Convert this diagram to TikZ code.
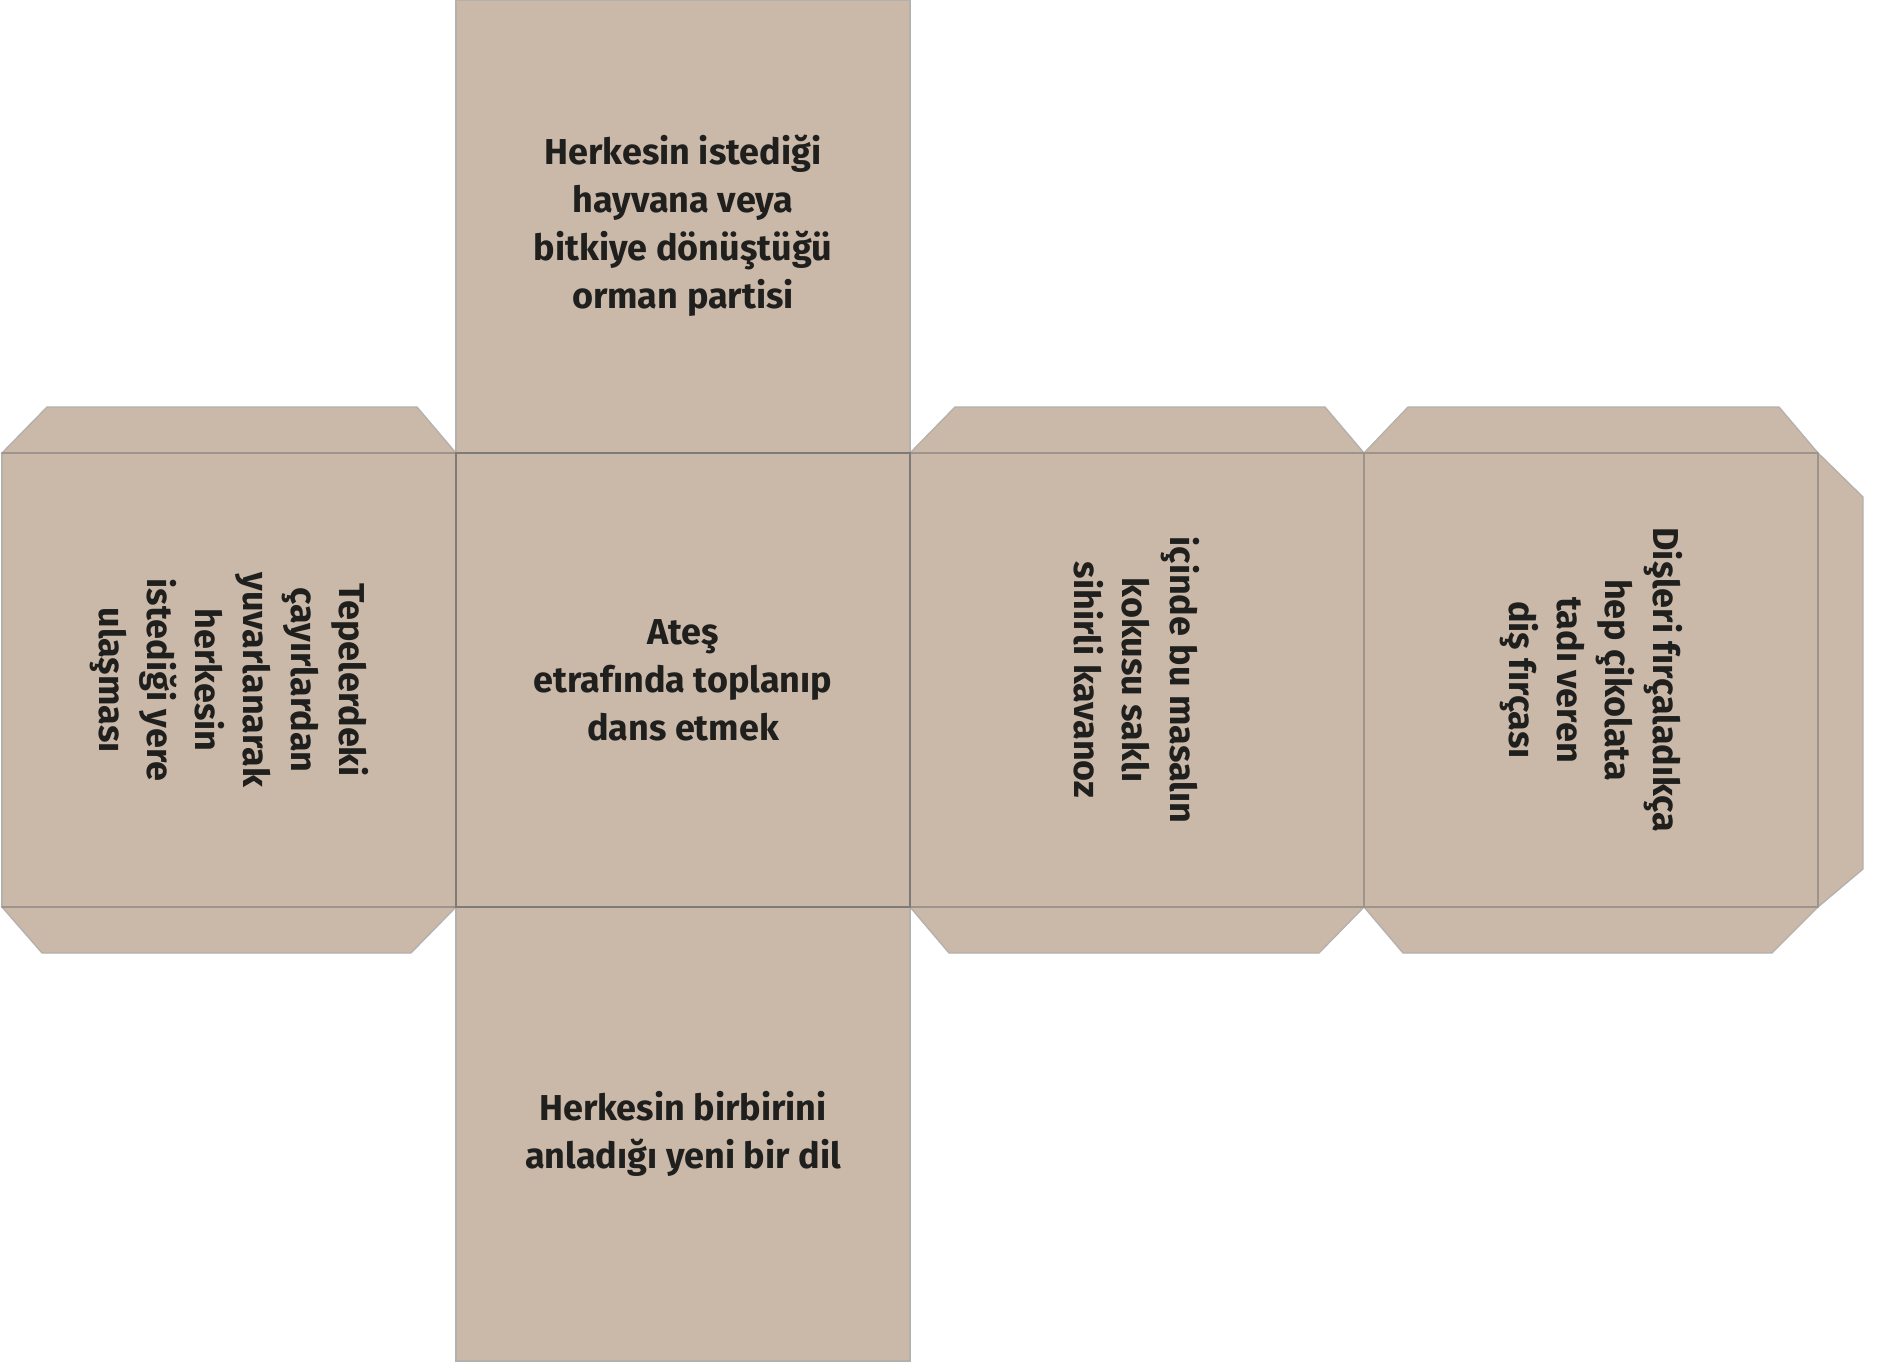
\documentclass[tikz,border=0pt]{standalone}
\usepackage{fontspec}
\setmainfont{Fira Sans}
\begin{document}
\begin{tikzpicture}[x=1pt,y=-1pt,
  piece/.style={fill=boxfill,draw=cutline,line width=1.3pt,line join=miter},
  fold/.style={draw=foldline,line width=1.1pt},
  foldc/.style={draw=foldcenter,line width=1.3pt},
  facetext/.style={align=center,text=txtcol,inner sep=0pt,
    font=\bfseries\fontsize{36}{48}\selectfont}]
\definecolor{boxfill}{HTML}{CAB8A9}
\definecolor{cutline}{HTML}{B4B0AC}
\definecolor{foldline}{HTML}{9C948D}
\definecolor{foldcenter}{HTML}{7E7A76}
\definecolor{txtcol}{HTML}{1F1F1D}
\useasboundingbox (0,0) rectangle (1887,1365);
% flaps
\draw[piece] (2,453) -- (47,407) -- (417,407) -- (456,453) -- cycle;
\draw[piece] (910,453) -- (955,407) -- (1325,407) -- (1364,453) -- cycle;
\draw[piece] (1364,453) -- (1408,407) -- (1779,407) -- (1818,453) -- cycle;
\draw[piece] (2,907) -- (42,953) -- (411,953) -- (456,907) -- cycle;
\draw[piece] (910,907) -- (949,953) -- (1319,953) -- (1364,907) -- cycle;
\draw[piece] (1364,907) -- (1403,953) -- (1772,953) -- (1818,907) -- cycle;
\draw[piece] (1818,453) -- (1863,497) -- (1863,869) -- (1818,907) -- cycle;
% faces
\draw[piece] (456,0) rectangle (910,453);
\draw[piece] (456,907) rectangle (910,1361);
\draw[piece] (2,453) rectangle (456,907);
\draw[piece] (910,453) rectangle (1364,907);
\draw[piece] (1364,453) rectangle (1818,907);
\draw[piece] (456,453) rectangle (910,907);
% fold lines
\draw[fold] (2,453) -- (456,453);
\draw[fold] (2,907) -- (456,907);
\draw[fold] (910,453) -- (1818,453);
\draw[fold] (910,907) -- (1818,907);
\draw[fold] (1364,453) -- (1364,907);
\draw[fold] (1818,453) -- (1818,907);
\draw[foldc] (456,453) rectangle (910,907);
% texts
\node[facetext] (top) at (683,226) {Herkesin istediği\\hayvana veya\\bitkiye dönüştüğü\\orman partisi};
\node[facetext] (center) at (683,680) {Ateş\\etrafında toplanıp\\dans etmek};
\node[facetext] (bottom) at (683,1134) {Herkesin birbirini\\anladığı yeni bir dil};
\node[facetext,rotate=-90] (left) at (229,680) {Tepelerdeki\\çayırlardan\\yuvarlanarak\\herkesin\\istediği yere\\ulaşması};
\node[facetext,rotate=-90] (third) at (1137,680) {içinde bu masalın\\kokusu saklı\\sihirli kavanoz};
\node[facetext,rotate=-90] (fourth) at (1591,680) {Dişleri fırçaladıkça\\hep çikolata\\tadı veren\\diş fırçası};
\end{tikzpicture}
\end{document}
